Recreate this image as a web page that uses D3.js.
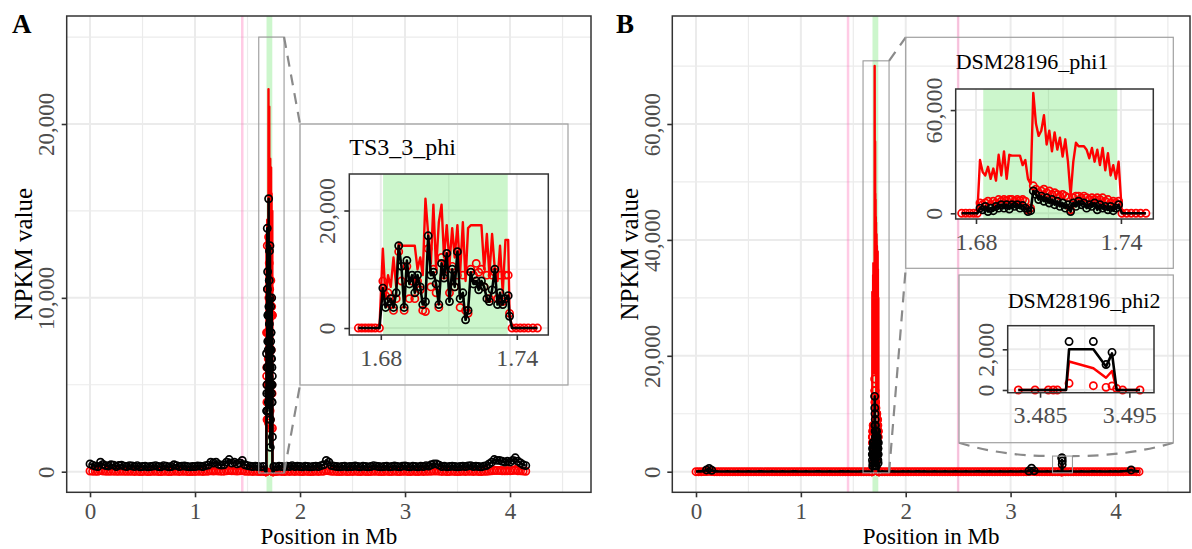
<!DOCTYPE html>
<html>
<head>
<meta charset="utf-8">
<script src="https://cdn.jsdelivr.net/npm/d3@7"></script>
<style>
body { margin: 0; background: #fff; }
svg { display: block; font-family: "Liberation Serif", "Times New Roman", serif; }
</style>
</head>
<body>
<svg id="chart" width="1192" height="549"></svg>
<script>
// ---- data ----
var mainXTicks = [0, 1, 2, 3, 4];
var mainXMinor = [0.5, 1.5, 2.5, 3.5, 4.5];
var yTicksA = [0, 10000, 20000];
var yMinorA = [5000, 15000, 25000];
var yTicksB = [0, 20000, 40000, 60000];
var yMinorB = [10000, 30000, 50000, 70000];
var prophageA = [1.681, 1.736];
var prophageB = [1.683, 1.7385];
var pinkA = [1.45];
var pinkB = [1.45, 2.5];

// genome-wide bins (Mb = bgStart + i*bgStep), NPKM; one row of 20 = 0.5 Mb
var bgStart = 0, bgStep = 0.025;
var bgBlackA = [
  450,380,320,300,550,420,350,330,400,380,300,360,380,320,300,350,330,300,350,280,
  300,320,280,300,320,350,300,280,350,320,280,300,400,350,300,320,330,300,280,300,
  300,330,320,300,350,380,550,500,550,420,380,400,550,700,500,550,450,500,650,400,
  350,320,300,320,300,280,300,300,300,300,300,280,320,300,280,320,300,350,300,320,
  300,280,320,300,280,300,320,300,350,400,650,550,350,320,300,280,300,320,280,300,
  300,330,300,280,320,300,280,300,350,320,300,280,300,320,280,300,330,300,280,320,
  330,300,280,320,300,280,320,300,350,320,400,450,450,380,300,320,280,300,320,300,
  280,300,320,300,330,350,300,320,300,280,320,350,450,550,700,650,650,600,550,600,
  550,650,800,600,500,400,350];
var bgRedLineA = [
  180,150,130,120,220,170,140,130,160,150,120,140,150,130,120,140,130,120,140,110,
  120,130,110,120,130,140,120,110,140,130,110,120,160,140,120,130,130,120,110,120,
  120,130,130,120,140,150,220,200,220,170,150,160,220,280,200,220,180,200,260,160,
  140,130,120,130,120,110,120,120,120,120,120,110,130,120,110,130,120,140,120,130,
  120,110,130,120,110,120,130,120,140,160,260,220,140,130,120,110,120,130,110,120,
  120,130,120,110,130,120,110,120,140,130,120,110,120,130,110,120,130,120,110,130,
  130,120,110,130,120,110,130,120,140,130,160,180,180,150,120,130,110,120,130,120,
  110,120,130,120,130,140,120,130,120,110,130,140,180,220,280,260,260,240,220,240,
  220,260,320,240,200,160,140];
var bgRedPtA = [
  40,30,20,20,60,40,30,20,30,30,20,25,30,20,20,25,20,15,25,10,
  15,20,10,15,20,25,15,10,25,20,10,15,30,25,15,20,20,15,10,15,
  15,20,20,15,25,30,50,40,50,35,30,30,50,70,45,50,40,45,60,30,
  25,20,15,20,15,10,15,15,15,15,15,10,20,15,10,20,15,25,15,20,
  15,10,20,15,10,15,20,15,25,30,60,50,25,20,15,10,15,20,10,15,
  15,20,15,10,20,15,10,15,25,20,15,10,15,20,10,15,20,15,10,20,
  20,15,10,20,15,10,20,15,25,20,30,40,40,30,15,20,10,15,20,15,
  10,15,20,15,20,25,15,20,15,10,20,25,40,50,70,60,60,55,50,55,
  50,60,80,55,45,35,25];

var bgBlackB = [
  40,50,60,120,300,550,250,60,50,40,30,40,50,40,30,40,50,40,30,40,
  50,40,30,40,50,60,40,30,40,50,40,30,40,50,40,30,40,50,60,40,
  30,40,50,40,30,40,50,60,40,30,40,50,40,30,40,50,60,40,50,40,
  40,30,40,50,40,30,40,40,40,40,40,50,40,30,40,50,40,30,40,50,
  40,50,40,30,60,80,40,50,40,30,40,50,40,30,40,50,40,30,40,50,
  40,30,40,50,40,30,40,50,60,40,30,40,50,40,30,40,50,40,30,40,
  50,40,30,40,50,40,30,120,600,150,50,40,30,40,50,40,30,40,50,40,
  40,30,40,50,40,30,40,50,40,30,40,50,60,40,50,40,30,40,50,40,
  50,40,60,80,120,150,300,120,60,50];
var bgRedLineB = [
  30,40,50,90,220,400,200,50,40,30,20,30,40,30,20,30,40,30,20,30,
  40,30,20,30,40,50,30,20,30,40,30,20,30,40,30,20,30,40,50,30,
  20,30,40,30,20,30,40,50,30,20,30,40,30,20,30,40,50,30,40,30,
  30,20,30,40,30,20,30,30,30,30,30,40,30,20,30,40,30,20,30,40,
  30,40,30,20,50,60,30,40,30,20,30,40,30,20,30,40,30,20,30,40,
  30,20,30,40,30,20,30,40,50,30,20,30,40,30,20,30,40,30,20,30,
  40,30,20,30,40,30,20,90,450,110,40,30,20,30,40,30,20,30,40,30,
  30,20,30,40,30,20,30,40,30,20,30,40,50,30,40,30,20,30,40,30,
  40,30,50,60,90,200,350,150,50,40];
var bgRedPtB = [
  0,0,0,10,30,50,20,0,0,0,0,0,0,0,0,0,0,0,0,0,
  0,0,0,0,0,0,0,0,0,0,0,0,0,0,0,0,0,0,0,0,
  0,0,0,0,0,0,0,0,0,0,0,0,0,0,0,0,0,0,0,0,
  0,0,0,0,0,0,0,0,0,0,0,0,0,0,0,0,0,0,0,0,
  0,0,0,0,0,0,0,0,0,0,0,0,0,0,0,0,0,0,0,0,
  0,0,0,0,0,0,0,0,0,0,0,0,0,0,0,0,0,0,0,0,
  0,0,0,0,0,0,0,10,60,20,0,0,0,0,0,0,0,0,0,0,
  0,0,0,0,0,0,0,0,0,0,0,0,0,0,0,0,0,0,0,0,
  0,0,0,0,10,20,40,20,0,0];
var bumpPosB = [0.1, 0.125, 0.15, 3.175, 3.2, 3.225, 4.15];
var bumpValB = [300, 550, 250, 120, 600, 150, 300];

// TS3_3_phi region (values in thousands NPKM)
var tsPos = [1.6701,1.6716,1.6731,1.6746,1.6760,1.6775,1.6794,
  1.6809,1.6821,1.6832,1.6844,1.6856,1.6868,1.6879,1.6891,1.6903,1.6915,
  1.6926,1.6938,1.6950,1.6962,1.6974,1.6985,1.6997,1.7009,1.7021,1.7032,
  1.7044,1.7056,1.7068,1.7079,1.7091,1.7103,1.7115,1.7126,1.7138,1.7150,
  1.7162,1.7174,1.7185,1.7197,1.7209,1.7221,1.7232,1.7244,1.7256,1.7268,
  1.7279,1.7291,1.7303,1.7315,1.7326,1.7338,1.7350,1.7362,1.7368,
  1.7379,1.7397,1.7415,1.7432,1.7450,1.7471,1.7491];
var tsRedLine = [0,0,0,0,0,0,0,
  13.5,5,9,7,12,7,14.5,14,14,14,14,14,14,10,12,9,22,16,11,21,
  10,18,21,12,17.5,11,17,12,17.5,9.5,18,8,17,17.5,17.5,17.5,17.5,17.5,
  10,16,9,16,10,8,14,6,15,15,2.5,
  0,0,0,0,0,0,0];
var tsRedPt = [0,0,0,0,0,0,0,
  8,5.5,6,4,3,5,13,8,3,10.5,5,8,5,8,6.5,3,2.8,13.5,7,10,
  6,3.5,12,9,11,6,10.5,7,9,3.5,9,3,2.5,10,9,11,9.5,10,
  7,9,5,9,9.5,5,9,4.5,9,9,2.5,
  0,0,0,0,0,0,0];
var tsBlack = [0,0,0,0,0,0,0,
  6.8,3.5,4.5,5,3.5,6,14,10.5,3.5,11.5,7.5,9,6,9,7,4,4.5,15.7,9,9.5,
  7.5,4,11,8.5,12.7,4.5,10,7,13,5,6,1.4,3,9.5,7.5,8,6.5,8,
  7,5,4.5,6.5,10,4,6,4,5,5.5,2,
  0,0,0,0,0,0,0];

// DSM28196_phi1 region (thousands)
var phi1Pos = [1.67407,1.67572,1.67738,1.67903,1.68055,
  1.68166,1.68276,1.68386,1.68497,1.68607,1.68717,1.68828,1.68938,1.69048,1.69159,
  1.69269,1.69379,1.69490,1.69600,1.69710,1.69821,1.69931,1.70041,1.70152,1.70262,
  1.70372,1.70483,1.70593,1.70703,1.70814,1.70924,1.71034,1.71145,1.71255,1.71366,
  1.71476,1.71586,1.71697,1.71807,1.71917,1.72028,1.72138,1.72248,1.72359,1.72469,
  1.72579,1.72690,1.72800,1.72910,1.73021,1.73131,1.73241,1.73352,1.73462,1.73572,
  1.73683,1.73793,1.73903,
  1.74041,1.74234,1.74428,1.74621,1.74814,1.75034];
var phi1RedLine = [0,0,0,0,0,
  31,24,22,27,20,26,19,34,22,36,20,34,33.5,33.5,33.5,33.5,28,31,20,17,
  70,52,45,48,57,40,48,36,47,37,44,33,43,30,10.5,30,41,39,39,39,
  37,32,38,30,37,28,38,25,35,22,28,20,30,
  0,0,0,0,0,0];
var phi1RedPt = [0,0,0,0,0,
  6,5,6,7,5,7,6,8,7,8,7.5,8,8,7,8,7.5,8,7,2,3,
  16,14,12,13,14,12,13,11,12,11,10,11,10,9,2,9,10,10,9,10,
  9,8,9,8,9,8,9,7,8,6,7,6,7,
  0,0,0,0,0,0];
var phi1Black = [0,0,0,0,0,
  3,2,4,1,3,1.5,4,3,5,3,5,2.5,5,4,5,3,4.5,3,1,1.5,
  13,11,8,10,7,9,6,8,5,7,4,6,3,5,1,6,4,7,5,6,
  3,5,4,6,2,5,3,4,2,4,1.5,3,5,
  0,0,0,0,0,0];

// DSM28196_phi2 region (thousands)
var phi2Pos = [3.48257,3.48351,3.48444,3.48519,3.48593,3.48649,3.48694,3.48746,3.48791,
  3.48825,3.49097,3.49239,3.49306,3.49358,3.49425,3.49515,3.49619];
var phi2RedLine = [0,0,0,0,0,0,0,0,0,1.4,1.07,0.6,0.93,0,0,0,0];
var phi2RedPt = [0,null,0,null,0,0,0,null,null,0.33,0.21,0.13,0.2,0.07,0,null,0];
var phi2Black = [0,0,0,0,0,0,0,0,0,2,2,1.15,1.8,0,0,0,0];
var phi2BlackPt = [0,0,0,0,0,0,0,0,0,2.38,2.38,1.25,1.85,0,0,0,0];

// ---- build rows ----
function binX(i) { return +(bgStart + i * bgStep).toFixed(3); }
function bgRows(redLine, redPt, black, blackPt) {
  return redLine.map(function(v, i) {
    return {x: binX(i), redLine: v, redPt: redPt[i],
            black: black[i], blackPt: blackPt ? blackPt[i] : black[i]};
  });
}
function regionRows(pos, redLine, redPt, black, blackPt) {
  var k = function(v) { return v == null ? null : v * 1000; };
  return pos.map(function(x, i) {
    return {x: x, redLine: k(redLine[i]), redPt: k(redPt[i]), black: k(black[i]),
            blackPt: k((blackPt || black)[i])};
  });
}
function mergeRows(bg, regions) {
  var rows = bg.filter(function(d) {
    return !regions.some(function(r) { return d.x >= r[0].x && d.x <= r[r.length - 1].x; });
  });
  regions.forEach(function(r) { rows = rows.concat(r); });
  return rows.sort(function(a, b) { return a.x - b.x; });
}

var tsRows = regionRows(tsPos, tsRedLine, tsRedPt, tsBlack);
var phi1Rows = regionRows(phi1Pos, phi1RedLine, phi1RedPt, phi1Black);
var phi2Rows = regionRows(phi2Pos, phi2RedLine, phi2RedPt, phi2Black, phi2BlackPt);
var blackPtB = bgRedLineB.map(function(_, i) {
  var j = bumpPosB.indexOf(binX(i));
  return j < 0 ? null : bumpValB[j];
});
var rowsA = mergeRows(bgRows(bgRedLineA, bgRedPtA, bgBlackA), [tsRows]);
var rowsB = mergeRows(bgRows(bgRedLineB, bgRedPtB, bgBlackB, blackPtB), [phi1Rows, phi2Rows]);

// ---- drawing ----
var svg = d3.select("#chart");
var SERIF = '"Liberation Serif", "Times New Roman", serif';

function drawPlot(g, c, rows) {
  var x = d3.scaleLinear().domain(c.xDom).range([c.l, c.r]);
  var y = d3.scaleLinear().domain(c.yDom).range([c.b, c.t]);
  var inX = function(v) { return v >= c.xDom[0] && v <= c.xDom[1]; };
  var inY = function(v) { return v >= c.yDom[0] && v <= c.yDom[1]; };

  g.append("rect").attr("x", c.l).attr("y", c.t).attr("width", c.r - c.l)
    .attr("height", c.b - c.t).attr("fill", "#fff");

  // grid
  var grid = g.append("g").attr("stroke", "#ebebeb");
  grid.selectAll(".vmin").data(c.xMinor.filter(inX)).join("line")
    .attr("x1", x).attr("x2", x).attr("y1", c.t).attr("y2", c.b).attr("stroke-width", 1.2);
  grid.selectAll(".hmin").data(c.yMinor.filter(inY)).join("line")
    .attr("y1", y).attr("y2", y).attr("x1", c.l).attr("x2", c.r).attr("stroke-width", 1.2);
  grid.selectAll(".vmaj").data(c.xTicks).join("line")
    .attr("x1", x).attr("x2", x).attr("y1", c.t).attr("y2", c.b).attr("stroke-width", 2);
  grid.selectAll(".hmaj").data(c.yTicks).join("line")
    .attr("y1", y).attr("y2", y).attr("x1", c.l).attr("x2", c.r).attr("stroke-width", 2);

  // prophage band and markers
  g.append("rect").attr("x", x(c.band[0])).attr("width", x(c.band[1]) - x(c.band[0]))
    .attr("y", c.t).attr("height", c.b - c.t).attr("fill", "#00d000").attr("fill-opacity", 0.2);
  g.selectAll(".pink").data(c.pink || []).join("line")
    .attr("x1", x).attr("x2", x).attr("y1", c.t).attr("y2", c.b)
    .attr("stroke", "#ff69b4").attr("stroke-opacity", 0.35).attr("stroke-width", 2.5);

  // series
  var line = function(key) {
    return d3.line().defined(function(d) { return d[key] != null; })
      .x(function(d) { return x(d.x); }).y(function(d) { return y(d[key]); });
  };
  var s = g.append("g").attr("fill", "none");
  s.append("path").datum(rows).attr("d", line("redLine"))
    .attr("stroke", "#ff0000").attr("stroke-width", 2.4).attr("stroke-linejoin", "round");
  s.append("g").selectAll("circle").data(rows.filter(function(d) { return d.redPt != null; }))
    .join("circle").attr("cx", function(d) { return x(d.x); }).attr("cy", function(d) { return y(d.redPt); })
    .attr("r", 3.6).attr("stroke", "#ff0000").attr("stroke-width", 1.7);
  s.append("path").datum(rows).attr("d", line("black"))
    .attr("stroke", "#000").attr("stroke-width", 2.6).attr("stroke-linejoin", "round");
  s.append("g").selectAll("circle").data(rows.filter(function(d) { return d.blackPt > 0; }))
    .join("circle").attr("cx", function(d) { return x(d.x); }).attr("cy", function(d) { return y(d.blackPt); })
    .attr("r", 3.6).attr("stroke", "#000").attr("stroke-width", 1.7);

  // border
  g.append("rect").attr("x", c.l).attr("y", c.t).attr("width", c.r - c.l)
    .attr("height", c.b - c.t).attr("fill", "none").attr("stroke", "#333").attr("stroke-width", 1.5);

  // axes
  var ax = g.append("g").attr("transform", "translate(0," + c.b + ")")
    .call(d3.axisBottom(x).tickValues(c.xTicks).tickFormat(d3.format(c.xFmt)).tickSize(5));
  var ay = g.append("g").attr("transform", "translate(" + c.l + ",0)")
    .call(d3.axisLeft(y).tickValues(c.yTicks).tickFormat(d3.format(",")).tickSize(5));
  [ax, ay].forEach(function(a) {
    a.attr("font-family", SERIF).attr("font-size", c.fs);
    a.select(".domain").remove();
    a.selectAll(".tick line").attr("stroke", "#333").attr("stroke-width", 1.6);
    a.selectAll(".tick text").attr("fill", "#4d4d4d");
  });
  ax.selectAll(".tick text").attr("y", c.xOff).attr("dy", "0.35em");
  ay.selectAll(".tick text").attr("x", 0).attr("dy", "0.35em").attr("text-anchor", "middle")
    .attr("transform", "translate(" + (-c.yOff) + ",0) rotate(-90)");
  return {x: x, y: y};
}

function drawMain(c, rows, label) {
  var g = svg.append("g");
  var sc = drawPlot(g, c, rows);
  g.append("text").attr("x", (c.l + c.r) / 2).attr("y", 543.8).attr("text-anchor", "middle")
    .attr("font-size", 23).text("Position in Mb");
  g.append("text").attr("transform", "translate(" + (c.l - 34.7) + "," + ((c.t + c.b) / 2) + ") rotate(-90)")
    .attr("text-anchor", "middle").attr("font-size", 25).text("NPKM value");
  g.append("text").attr("x", c.labelX).attr("y", 33).attr("font-size", 27)
    .attr("font-weight", "bold").text(label);
  return {g: g, x: sc.x, y: sc.y};
}

function magnifier(m, ext, box, curved) {
  var x0 = m.x(ext.x[0]), x1 = m.x(ext.x[1]), y0 = m.y(ext.y[1]), y1 = m.y(ext.y[0]);
  m.g.append("rect").attr("x", x0).attr("y", y0).attr("width", x1 - x0).attr("height", y1 - y0)
    .attr("fill", "none").attr("stroke", "#9a9a9a").attr("stroke-width", 1.1);
  var dash = m.g.append("g").attr("fill", "none").attr("stroke", "#8a8a8a")
    .attr("stroke-width", 2.2).attr("stroke-dasharray", "11,8");
  if (!curved) {
    dash.append("line").attr("x1", x1).attr("y1", y0).attr("x2", box.l).attr("y2", box.t);
    dash.append("line").attr("x1", x1).attr("y1", y1).attr("x2", box.l).attr("y2", box.b);
  } else {
    var p = d3.path();
    p.moveTo(box.l, box.b);
    p.quadraticCurveTo(box.l + (x0 - box.l) * 0.45, y0, x0, y0);
    p.moveTo(box.r, box.b);
    p.quadraticCurveTo(box.r - (box.r - x1) * 0.45, y0, x1, y0);
    dash.append("path").attr("d", p.toString());
  }
}

function drawInset(c, rows, title) {
  var g = svg.append("g");
  g.append("rect").attr("x", c.box.l).attr("y", c.box.t).attr("width", c.box.r - c.box.l)
    .attr("height", c.box.b - c.box.t).attr("fill", "none").attr("stroke", "#a0a0a0").attr("stroke-width", 1.2);
  drawPlot(g, c, rows);
  g.append("text").attr("x", c.l).attr("y", c.titleY).attr("font-size", c.titleFs).text(title);
}

var cfgA = {l: 66.7, r: 591, t: 16, b: 492.3, xDom: [-0.222, 4.771], yDom: [-1185, 26212],
  xTicks: mainXTicks, xMinor: mainXMinor, yTicks: yTicksA, yMinor: yMinorA, xFmt: "d",
  band: prophageA, pink: pinkA, fs: 23, xOff: 18.2, yOff: 21, labelX: 12};
var cfgB = {l: 672.3, r: 1190, t: 16, b: 492.3, xDom: [-0.226, 4.711], yDom: [-3555, 78637],
  xTicks: mainXTicks, xMinor: mainXMinor, yTicks: yTicksB, yMinor: yMinorB, xFmt: "d",
  band: prophageB, pink: pinkB, fs: 23, xOff: 18.2, yOff: 20, labelX: 616};

var insetTs = {box: {l: 300, r: 568, t: 124, b: 385}, l: 349.3, r: 548.3, t: 174, b: 335,
  xDom: [1.6661, 1.7539], yDom: [-1185, 26212], xTicks: [1.68, 1.74], xMinor: [1.71],
  yTicks: [0, 20000], yMinor: [10000], xFmt: ".2f", band: prophageA, fs: 24, xOff: 22.4, yOff: 22.5,
  titleY: 155, titleFs: 24};
var insetPhi1 = {box: {l: 905.7, r: 1173.3, t: 37.3, b: 268.3}, l: 955.7, r: 1153.3, t: 89, b: 219,
  xDom: [1.6716, 1.7534], yDom: [-3310, 72250], xTicks: [1.68, 1.74], xMinor: [1.71],
  yTicks: [0, 60000], yMinor: [30000], xFmt: ".2f", band: prophageB, fs: 24, xOff: 22.7, yOff: 22.5,
  titleY: 69, titleFs: 22};
var insetPhi2 = {box: {l: 959, r: 1173.3, t: 275, b: 442.7}, l: 1007.7, r: 1154, t: 325.7, b: 392.7,
  xDom: [3.48138, 3.49776], yDom: [-133, 3160], xTicks: [3.485, 3.495], xMinor: [3.49],
  yTicks: [0, 2000], yMinor: [1000, 3000], xFmt: ".3f", band: [0, 0], fs: 24, xOff: 22.3, yOff: 22.5,
  titleY: 308, titleFs: 22};

var mA = drawMain(cfgA, rowsA, "A");
var mB = drawMain(cfgB, rowsB, "B");
magnifier(mA, {x: [1.607, 1.848], y: [-75, 25000]}, insetTs.box, false);
magnifier(mB, {x: [1.593, 1.841], y: [-200, 70900]}, insetPhi1.box, false);
magnifier(mB, {x: [3.40, 3.59], y: [-200, 2700]}, insetPhi2.box, true);
drawInset(insetTs, tsRows, "TS3_3_phi");
drawInset(insetPhi1, phi1Rows, "DSM28196_phi1");
drawInset(insetPhi2, phi2Rows, "DSM28196_phi2");
</script>
</body>
</html>
